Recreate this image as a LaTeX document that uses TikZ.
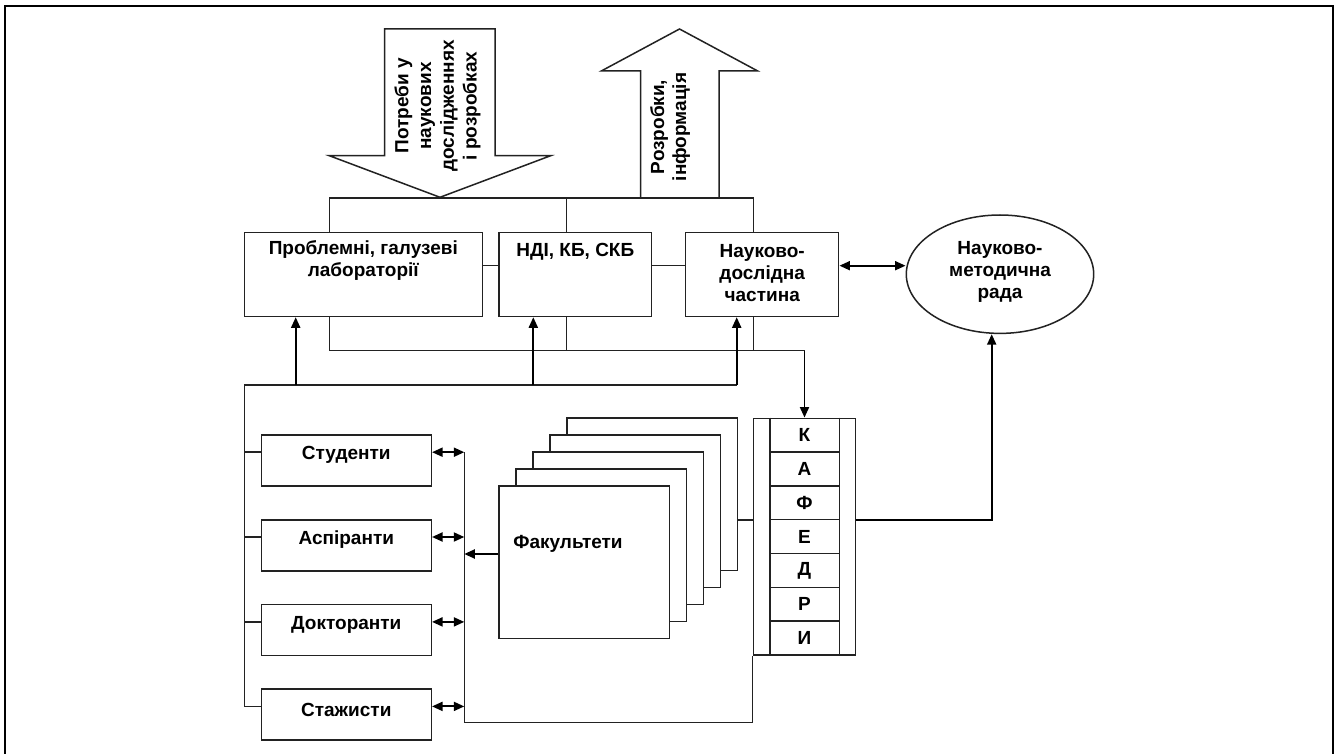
\documentclass[tikz,border=0pt]{standalone}
\usepackage{fontspec}
\setmainfont{Liberation Sans}
\usetikzlibrary{arrows.meta,shapes.geometric}
\definecolor{ln}{HTML}{222222}
\begin{document}
\begin{tikzpicture}[x=1pt,y=-1pt,
  every node/.style={font=\bfseries\fontsize{19}{22}\selectfont, text=black},
  box/.style={draw=ln, line width=1.5pt, fill=white, inner sep=0pt, rectangle},
  txt/.style={inner sep=0pt, align=center},
  thin/.style={draw=ln, line width=1.5pt},
  shapeline/.style={draw=ln, line width=1.5pt, line join=miter},
  arr/.style={draw=black, line width=1.9pt, -{Triangle[length=10.5pt,width=9pt]}},
  darr/.style={draw=black, line width=1.9pt, {Triangle[length=10.5pt,width=9pt]}-{Triangle[length=10.5pt,width=9pt]}}]
\useasboundingbox (0,0) rectangle (1336,754);
\fill[white] (0,0) rectangle (1336,754);
\draw[line width=2.6pt, black] (5,770) -- (5,6) -- (1333,6) -- (1333,770);

% big arrows
\draw[shapeline] (384.7,29) -- (495,29) -- (495,155.7) -- (550.7,155.7) -- (440,197.3) -- (329.3,155.7) -- (384.7,155.7) -- cycle;
\draw[shapeline] (640.7,198) -- (640.7,71) -- (601.3,71) -- (679.5,29) -- (757.7,71) -- (719,71) -- (719,198);
\node[txt, rotate=90, font=\bfseries\fontsize{19}{22.8}\selectfont] (tneed) at (437.5,106) {Потреби у\\наукових\\дослідженнях\\і розробках};
\node[txt, rotate=90] (tdev) at (670,127) {Розробки,\\інформація};

% top boxes
\node[box, minimum width=238pt, minimum height=84.2pt] (prob) at (363.3,274.4) {};
\node[box, minimum width=152.7pt, minimum height=84.2pt] (ndi) at (575.35,274.4) {};
\node[box, minimum width=153pt, minimum height=84.2pt] (nd) at (762.2,274.4) {};
\node[txt] (tprob) at (363.3,261) {Проблемні, галузеві\\лабораторії};
\node[txt] (tndi) at (575.3,251.5) {НДІ, КБ, СКБ};
\node[txt] (tnd) at (762.2,273) {Науково-\\дослідна\\частина};

\node[ellipse, draw=ln, line width=1.5pt, inner sep=0pt, minimum width=187.4pt, minimum height=118.4pt] (ell) at (1000,274.2) {};
\node[txt] (tell) at (1000,272) {Науково-\\методична\\рада};

% top bus
\coordinate (xA) at (329.3,198);
\coordinate (xB) at (566.7,198);
\coordinate (xC) at (753.3,198);
\draw[thin] (prob.north -| xA) -- (xA) -- (xC) -- (nd.north -| xC);
\draw[thin] (xB) -- (ndi.north -| xB);

% links between top boxes
\coordinate (m) at ([yshift=8.7pt]prob.east);
\draw[thin] (m) -- (m -| ndi.west);
\draw[thin] (m -| ndi.east) -- (m -| nd.west);
\draw[darr] (m -| nd.east) -- (m -| ell.west);

% students etc
\node[box, minimum width=170pt, minimum height=51pt] (stud) at (346.3,460.5) {};
\node[box, minimum width=170pt, minimum height=51pt] (asp) at (346.3,545.3) {};
\node[box, minimum width=170pt, minimum height=51pt] (dokt) at (346.3,630.2) {};
\node[box, minimum width=170pt, minimum height=51pt] (stazh) at (346.3,714.7) {};
\node[txt] (tstud) at (346.3,455) {Студенти};
\node[txt] (tasp) at (346.3,540) {Аспіранти};
\node[txt] (tdokt) at (346.3,624.5) {Докторанти};
\node[txt] (tstazh) at (346.3,709.5) {Стажисти};

% faculties stack
\node[box, minimum width=170.3pt, minimum height=152.3pt] (f4) at (652.2,494.2) {};
\node[box, minimum width=170.3pt, minimum height=152.3pt] (f3) at (635.2,511.2) {};
\node[box, minimum width=170.3pt, minimum height=152.3pt] (f2) at (618.2,528.2) {};
\node[box, minimum width=170.3pt, minimum height=152.3pt] (f1) at (601.2,545.2) {};
\node[box, minimum width=170.3pt, minimum height=152.3pt] (f0) at (584.2,562.2) {};
\node[txt] (tfac) at (568,543.5) {Факультети};

% kafedry
\node[box, minimum width=102.4pt, minimum height=236.7pt] (kaf) at (804.5,536.65) {};
\draw[thin] ([xshift=17.4pt]kaf.north west) -- ([xshift=17.4pt]kaf.south west);
\draw[thin] ([xshift=-17pt]kaf.north east) -- ([xshift=-17pt]kaf.south east);
\foreach \i in {1,...,6} {
  \draw[thin] (770.7,418.3+33.81*\i) -- (838.5,418.3+33.81*\i);
}
\foreach \i/\l in {1/К,2/А,3/Ф,4/Е,5/Д,6/Р,7/И} {
  \node[txt] (kl\i) at (804.5,418.3+33.81*\i-16.9) {\l};
}

% bottom bus from top boxes to kafedry
\coordinate (bA) at (329.3,350.7);
\coordinate (bB) at (566.7,350.7);
\coordinate (bC) at (753.3,350.7);
\coordinate (bK) at (804.5,350.7);
\draw[thin] (prob.south -| bA) -- (bA) -- (bK);
\draw[thin] (ndi.south -| bB) -- (bB);
\draw[thin] (nd.south -| bC) -- (bC);
\draw[arr] (bK) -- (kaf.north);

% upward arrows bus
\coordinate (uL) at (244.3,385);
\coordinate (u1) at (295.7,385);
\coordinate (u2) at (533.3,385);
\coordinate (u3) at (736.7,385);
\draw[thin] (uL) -- (u3);
\draw[arr] (u1) -- (prob.south -| u1);
\draw[arr] (u2) -- (ndi.south -| u2);
\draw[arr] (u3) -- (nd.south -| u3);

% left bus with ticks
\coordinate (sw1) at ([yshift=8.3pt]stud.west);
\coordinate (sw2) at ([yshift=8.3pt]asp.west);
\coordinate (sw3) at ([yshift=8.3pt]dokt.west);
\coordinate (sw4) at ([yshift=8.3pt]stazh.west);
\draw[thin] (uL) -- (uL |- sw4) -- (sw4);
\draw[thin] (uL |- sw1) -- (sw1);
\draw[thin] (uL |- sw2) -- (sw2);
\draw[thin] (uL |- sw3) -- (sw3);

% right bus with double arrows
\coordinate (rB) at (464.3,722.7);
\coordinate (se1) at ([yshift=8.3pt]stud.east);
\coordinate (se2) at ([yshift=8.3pt]asp.east);
\coordinate (se3) at ([yshift=8.3pt]dokt.east);
\coordinate (se4) at ([yshift=8.3pt]stazh.east);
\draw[darr] (se1) -- (se1 -| rB);
\draw[darr] (se2) -- (se2 -| rB);
\draw[darr] (se3) -- (se3 -| rB);
\draw[darr] (se4) -- (se4 -| rB);
\draw[thin] (se1 -| rB) -- (rB) -- (rB -| kaf.south west) -- (kaf.south west);
\coordinate (fw) at ([yshift=8.2pt]f0.west);
\draw[arr] (fw) -- (fw -| rB);

% faculties - kafedry - council
\coordinate (kmid) at (804.5,520);
\coordinate (eb) at (991.7,520);
\draw[thin] (f4.east |- kmid) -- (kaf.west |- kmid);
\draw[arr] (kaf.east |- kmid) -- (eb) -- (eb |- ell.south);
\end{tikzpicture}
\end{document}
